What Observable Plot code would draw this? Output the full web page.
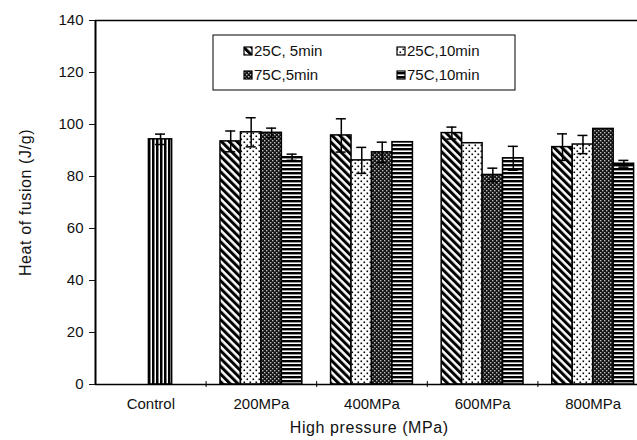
<!DOCTYPE html>
<html><head><meta charset="utf-8">
<script src="https://cdn.jsdelivr.net/npm/d3@7"></script>
<script src="https://cdn.jsdelivr.net/npm/@observablehq/plot@0.6"></script>
<style>
html,body{margin:0;padding:0;background:#fff;overflow:hidden;}
#chart svg{font-family:"Liberation Sans",Arial,sans-serif;}
</style></head><body><div id="chart"></div>
<script>
// ---- data ----
const categories = ["Control", "200MPa", "400MPa", "600MPa", "800MPa"];
const seriesNames = ["25C, 5min", "25C,10min", "75C,5min", "75C,10min"];
const controlValue = 94.3;
const controlError = 2.0;
// values for 200, 400, 600, 800 MPa
const v25c5min  = [93.5, 95.8, 96.7, 91.3];
const e25c5min  = [4.0, 6.4, 2.3, 5.1];
const v25c10min = [97.0, 86.2, 92.8, 92.3];
const e25c10min = [5.6, 5.0, 0, 3.5];
const v75c5min  = [96.8, 89.3, 80.6, 98.3];
const e75c5min  = [1.8, 3.9, 2.6, 0];
const v75c10min = [87.4, 93.2, 87.0, 84.9];
const e75c10min = [1.2, 0, 4.6, 1.3];
const yTicks = [0, 20, 40, 60, 80, 100, 120, 140];

// ---- layout ----
const W = 637, H = 440;
const barW = 0.185;        // bar width in category units
const ctrlW = 0.21;
const ctrlCenter = 0.588;
const fills = ["url(#pDiag)", "url(#pDots)", "url(#pCross)", "url(#pHoriz)"];

const seriesValues = [v25c5min, v25c10min, v75c5min, v75c10min];
const seriesErrors = [e25c5min, e25c10min, e75c5min, e75c10min];

const rows = [];
rows.push({cat: categories[0], value: controlValue, err: controlError, fill: "url(#pVert)",
  x1: ctrlCenter - ctrlW / 2, x2: ctrlCenter + ctrlW / 2});
seriesValues.forEach((vals, i) => {
  vals.forEach((v, k) => {
    const c = k + 1 + 0.5;
    const x1 = c + (i - 2) * barW;
    rows.push({cat: categories[k + 1], series: seriesNames[i], value: v, err: seriesErrors[i][k],
      fill: fills[i], x1, x2: x1 + barW});
  });
});
const errRows = rows.filter(d => d.err > 0);
const cx = d => (d.x1 + d.x2) / 2;

const plot = Plot.plot({
  width: W, height: H,
  marginLeft: 95, marginTop: 20, marginBottom: 56, marginRight: 0,
  style: {fontFamily: "Liberation Sans, Arial, sans-serif", background: "white", overflow: "hidden", fontSize: "15px"},
  x: {domain: [0, 5], range: [95, 648]},
  y: {domain: [0, 140], range: [384, 20]},
  color: {type: "identity"},
  marks: [
    Plot.rectY(rows, {x1: "x1", x2: "x2", y1: 0, y2: "value", fill: "fill", stroke: "black", strokeWidth: 1.5}),
    Plot.ruleX(errRows, {x: cx, y1: d => d.value - d.err, y2: d => d.value + d.err, stroke: "black", strokeWidth: 1.5}),
    Plot.ruleY(errRows, {x1: cx, x2: cx, y: d => d.value + d.err, insetLeft: -5, insetRight: -5, stroke: "black", strokeWidth: 1.5}),
    Plot.ruleY(errRows, {x1: cx, x2: cx, y: d => d.value - d.err, insetLeft: -5, insetRight: -5, stroke: "black", strokeWidth: 1.5}),
    Plot.ruleY([0], {stroke: "black", strokeWidth: 1.5}),
    Plot.ruleY([140], {stroke: "black", strokeWidth: 1.5}),
    Plot.ruleX([0], {stroke: "black", strokeWidth: 2}),
    Plot.ruleX([1, 2, 3, 4], {y1: 0, y2: 0, insetTop: -3, insetBottom: -3, stroke: "black", strokeWidth: 1}),
    Plot.axisY({ticks: yTicks, tickSize: 6, tickPadding: 6, fontSize: 15, label: null, color: "#111"}),
    Plot.axisX({ticks: categories.map((_, k) => k + 0.5), tickFormat: v => categories[Math.floor(v)],
      tickSize: 0, tickPadding: 14, fontSize: 15, label: null, color: "#111"}),
    Plot.text(["High pressure (MPa)"], {frameAnchor: "bottom", dy: 43, fontSize: 16, fill: "#111",
      x: () => 2.5 - 0.025, lineAnchor: "middle"}),
    Plot.text(["Heat of fusion (J/g)"], {frameAnchor: "left", dx: -70, rotate: -90, fontSize: 16, fill: "#111",
      y: () => 70, textAnchor: "middle"})
  ]
});

// pattern definitions
const svg = d3.select(plot.tagName.toLowerCase() === "svg" ? plot : plot.querySelector("svg"));
svg.selectAll("text").filter(function() { return /High pressure|Heat of fusion/.test(this.textContent); })
  .style("letter-spacing", "0.6px");
const defs = svg.insert("defs", ":first-child");
// vertical stripes (control)
let p = defs.append("pattern").attr("id", "pVert").attr("patternUnits", "userSpaceOnUse").attr("width", 4).attr("height", 4);
p.append("rect").attr("width", 4).attr("height", 4).attr("fill", "white");
p.append("rect").attr("width", 2.5).attr("height", 4).attr("fill", "black");
// diagonal stripes
p = defs.append("pattern").attr("id", "pDiag").attr("patternUnits", "userSpaceOnUse").attr("width", 5.5).attr("height", 5.5).attr("patternTransform", "rotate(-45)");
p.append("rect").attr("width", 5.5).attr("height", 5.5).attr("fill", "white");
p.append("rect").attr("width", 3).attr("height", 5.5).attr("fill", "black");
// dots
p = defs.append("pattern").attr("id", "pDots").attr("patternUnits", "userSpaceOnUse").attr("width", 6).attr("height", 6);
p.append("rect").attr("width", 6).attr("height", 6).attr("fill", "white");
p.append("rect").attr("x", 0.5).attr("y", 0.5).attr("width", 1.6).attr("height", 1.6).attr("fill", "black");
p.append("rect").attr("x", 3.5).attr("y", 3.5).attr("width", 1.6).attr("height", 1.6).attr("fill", "black");
// dark crosshatch
p = defs.append("pattern").attr("id", "pCross").attr("patternUnits", "userSpaceOnUse").attr("width", 4).attr("height", 4);
p.append("rect").attr("width", 4).attr("height", 4).attr("fill", "#151515");
p.append("rect").attr("x", 0).attr("y", 0).attr("width", 1.4).attr("height", 1.4).attr("fill", "#bbb");
p.append("rect").attr("x", 2).attr("y", 2).attr("width", 1.4).attr("height", 1.4).attr("fill", "#bbb");
// horizontal stripes
p = defs.append("pattern").attr("id", "pHoriz").attr("patternUnits", "userSpaceOnUse").attr("width", 4).attr("height", 4);
p.append("rect").attr("width", 4).attr("height", 4).attr("fill", "white");
p.append("rect").attr("width", 4).attr("height", 2.4).attr("fill", "black");

// legend inside plot area
const lg = svg.append("g").attr("font-family", "Liberation Sans, Arial, sans-serif").attr("font-size", 15).attr("fill", "#111").attr("text-anchor", "start");
lg.append("rect").attr("x", 213).attr("y", 35).attr("width", 302).attr("height", 55).attr("fill", "white").attr("stroke", "black").attr("stroke-width", 1);
const legendPos = [[244, 51], [397, 51], [244, 75], [397, 75]];
seriesNames.forEach((name, i) => {
  const [lx, ly] = legendPos[i];
  lg.append("rect").attr("x", lx).attr("y", ly - 4).attr("width", 8).attr("height", 8).attr("fill", fills[i]).attr("stroke", "black").attr("stroke-width", 1.2);
  lg.append("text").attr("x", lx + 10).attr("y", ly).attr("dy", "0.35em").attr("text-anchor", "start").text(name);
});

document.getElementById("chart").appendChild(plot);
</script></body></html>
